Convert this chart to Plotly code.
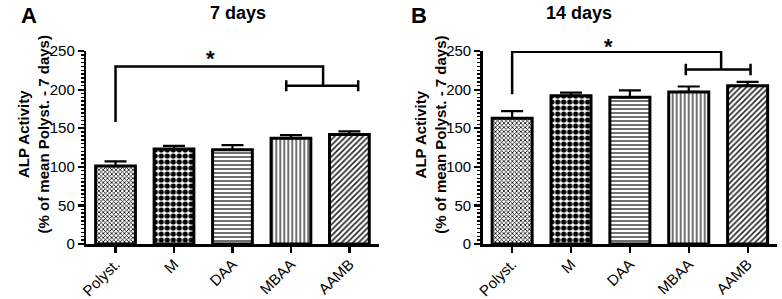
import plotly.graph_objects as go

categories = ["Polyst.", "M", "DAA", "MBAA", "AAMB"]
values_7d = [101, 123, 122, 137, 142]
errors_7d = [6, 4, 6, 4, 4]
values_14d = [163, 192, 190, 197, 205]
errors_14d = [9, 4, 9, 7, 5]
panel_titles = ["7 days", "14 days"]
panel_letters = ["A", "B"]
y_title = "ALP Activity<br>(% of mean Polyst. - 7 days)"
y_ticks = [0, 50, 100, 150, 200, 250]

patterns = [
    dict(shape="x", size=3, solidity=0.45, fgcolor="black"),
    dict(shape=".", size=6, solidity=0.6, fgcolor="black"),
    dict(shape="-", size=4, solidity=0.35, fgcolor="#333"),
    dict(shape="|", size=4, solidity=0.35, fgcolor="#333"),
    dict(shape="/", size=4, solidity=0.4, fgcolor="#222"),
]

W, H = 782, 299
T, B = 51, 52
PH = H - T - B
xpos = list(range(len(categories)))


def py(Y):
    """figure pixel row -> paper y"""
    return (H - B - Y) / PH


fig = go.Figure()

for i, (vals, errs) in enumerate([(values_7d, errors_7d), (values_14d, errors_14d)]):
    xa = "x" if i == 0 else "x2"
    ya = "y" if i == 0 else "y2"
    fig.add_trace(go.Bar(
        x=xpos, y=vals, xaxis=xa, yaxis=ya,
        width=0.68,
        marker=dict(color="white", line=dict(color="black", width=3),
                    pattern=dict(
                        shape=[p["shape"] for p in patterns],
                        size=[p["size"] for p in patterns],
                        solidity=[p["solidity"] for p in patterns],
                        fgcolor=[p["fgcolor"] for p in patterns],
                        bgcolor="white", fillmode="replace")),
        error_y=dict(type="data", symmetric=False, array=errs,
                     arrayminus=[0] * len(errs), color="black",
                     thickness=2.2, width=11),
        showlegend=False, cliponaxis=False, hoverinfo="skip",
    ))

axis_common = dict(showline=True, linecolor="black", linewidth=2.5,
                   ticks="outside", tickcolor="black", tickwidth=2.2,
                   ticklen=6, showgrid=False, zeroline=False)
xaxis_common = dict(tickangle=-45, tickfont=dict(size=15), range=[-0.5, 4.5],
                    tickvals=xpos, ticktext=categories, ticklabelstandoff=-3,
                    **axis_common)
yaxis_common = dict(domain=[0, 1], range=[0, 250], tickvals=y_ticks,
                    tickfont=dict(size=15),
                    minor=dict(dtick=5, ticks="outside", ticklen=3, tickwidth=1.5,
                               tickcolor="black"), **axis_common)

fig.update_layout(
    width=W, height=H,
    margin=dict(l=0, r=0, t=T, b=B),
    plot_bgcolor="white", paper_bgcolor="white",
    font=dict(family="Liberation Sans, Arial", color="black"),
    xaxis=dict(domain=[80 / W, 375 / W], anchor="y", **xaxis_common),
    yaxis=dict(anchor="x", **yaxis_common),
    xaxis2=dict(domain=[480 / W, 777 / W], anchor="y2", **xaxis_common),
    yaxis2=dict(anchor="x2", **yaxis_common),
)

# significance brackets (outer: from Polyst to group, inner: MBAA-AAMB group)
brackets = [
    dict(xa="x", ya="y", start_y=158, top_y=230, drop_x=3.55, inner_y=205,
         inner_x0=2.92, inner_x1=4.15, cap=7, star_x=1.62, star_y=222),
    dict(xa="x2", ya="y2", start_y=194, top_y=249, drop_x=3.55, inner_y=226,
         inner_x0=2.95, inner_x1=4.05, cap=7.5, star_x=1.64, star_y=237),
]
line = dict(color="black", width=2.5)
for b in brackets:
    fig.add_trace(go.Scatter(
        x=[0, 0, b["drop_x"], b["drop_x"]],
        y=[b["start_y"], b["top_y"], b["top_y"], b["inner_y"]],
        xaxis=b["xa"], yaxis=b["ya"], mode="lines", line=line,
        showlegend=False, cliponaxis=False, hoverinfo="skip"))
    fig.add_trace(go.Scatter(
        x=[b["inner_x0"], b["inner_x0"], None, b["inner_x0"], b["inner_x1"], None,
           b["inner_x1"], b["inner_x1"]],
        y=[b["inner_y"] - b["cap"], b["inner_y"] + b["cap"], None,
           b["inner_y"], b["inner_y"], None,
           b["inner_y"] - b["cap"], b["inner_y"] + b["cap"]],
        xaxis=b["xa"], yaxis=b["ya"], mode="lines", line=line,
        showlegend=False, cliponaxis=False, hoverinfo="skip"))
    fig.add_annotation(x=b["star_x"], y=b["star_y"], xref=b["xa"], yref=b["ya"],
                       text="<b>*</b>", showarrow=False, font=dict(size=22),
                       yanchor="bottom")

# titles, letters, y titles
title_x = [203, 612.5]
letter_x = [12.5, 415.5]
ytitle_x = [27, 428]
for i in range(2):
    fig.add_annotation(x=title_x[i] / W, y=py(12), xref="paper", yref="paper",
                       yanchor="middle", text="<b>" + panel_titles[i] + "</b>",
                       showarrow=False, font=dict(size=18))
    fig.add_annotation(x=letter_x[i] / W, y=py(15), xref="paper", yref="paper",
                       yanchor="middle", text="<b>" + panel_letters[i] + "</b>",
                       showarrow=False, font=dict(size=22))
    fig.add_annotation(x=ytitle_x[i] / W, y=py(136), xref="paper",
                       yref="paper", textangle=-90, text="<b>" + y_title + "</b>",
                       showarrow=False, font=dict(size=15), xanchor="center",
                       yanchor="middle")

fig.write_html("out.html",
               config={"displayModeBar": False, "staticPlot": True},
               post_script="document.body.style.margin='0';"
                           "document.body.style.overflow='hidden';")
